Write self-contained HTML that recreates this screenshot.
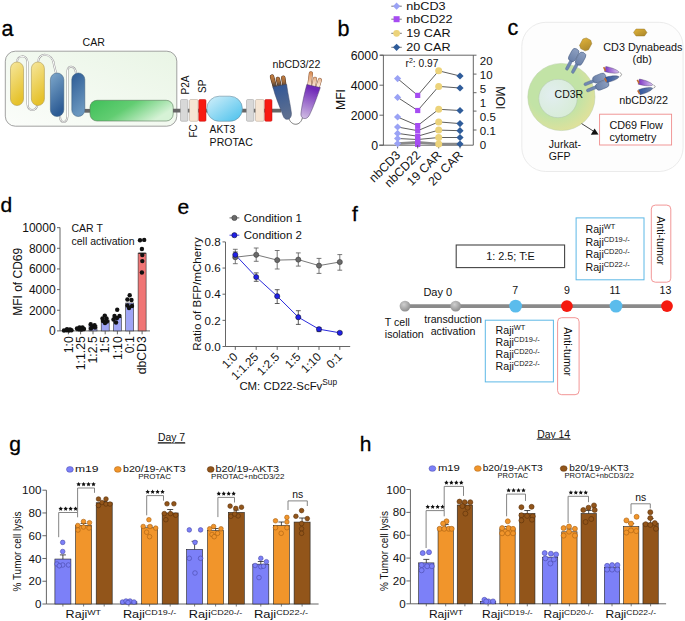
<!DOCTYPE html>
<html><head><meta charset="utf-8"><title>Figure</title>
<style>
html,body{margin:0;padding:0;background:#fff;}
body{width:685px;height:621px;overflow:hidden;}
svg{display:block;font-family:"Liberation Sans", sans-serif;}
.L{stroke:#000;stroke-width:0.3px;}
</style></head><body>
<svg width="685" height="621" viewBox="0 0 685 621">
<rect width="685" height="621" fill="#ffffff"/>

<defs>
<linearGradient id="gCarBox" x1="0" y1="1" x2="1" y2="0">
 <stop offset="0" stop-color="#fbfdfa"/><stop offset="1" stop-color="#e9f5e5"/>
</linearGradient>
<linearGradient id="gYel" x1="0" y1="0" x2="0.3" y2="1">
 <stop offset="0" stop-color="#f6e79d"/><stop offset="1" stop-color="#e6c22c"/>
</linearGradient>
<linearGradient id="gBlu1" x1="0" y1="0" x2="0.3" y2="1">
 <stop offset="0" stop-color="#7ea8cb"/><stop offset="1" stop-color="#2c5b94"/>
</linearGradient>
<linearGradient id="gBlu2" x1="0" y1="0" x2="0.3" y2="1">
 <stop offset="0" stop-color="#2c5b94"/><stop offset="1" stop-color="#6a97bf"/>
</linearGradient>
<linearGradient id="gGreen" x1="0" y1="0" x2="1" y2="0.4">
 <stop offset="0" stop-color="#3ebf58"/><stop offset="0.5" stop-color="#62cd72"/><stop offset="1" stop-color="#d6f2d6"/>
</linearGradient>
<linearGradient id="gAkt" x1="0" y1="0" x2="1" y2="1">
 <stop offset="0" stop-color="#d4f0fa"/><stop offset="1" stop-color="#48c0ec"/>
</linearGradient>
<linearGradient id="gNbBlue" x1="0" y1="0" x2="0.2" y2="1">
 <stop offset="0" stop-color="#2f5596"/><stop offset="1" stop-color="#5d6f90"/>
</linearGradient>
<linearGradient id="gNbPur" x1="0" y1="0" x2="-0.2" y2="1">
 <stop offset="0" stop-color="#7029b8"/><stop offset="1" stop-color="#d7c8e6"/>
</linearGradient>
<linearGradient id="gFingBr" gradientUnits="userSpaceOnUse" x1="0" y1="75" x2="0" y2="87">
 <stop offset="0" stop-color="#c98040"/><stop offset="0.55" stop-color="#a06a3a"/><stop offset="1" stop-color="#3a3a40"/>
</linearGradient>
<linearGradient id="gFingPe" gradientUnits="userSpaceOnUse" x1="0" y1="72" x2="0" y2="87">
 <stop offset="0" stop-color="#d88a50"/><stop offset="1" stop-color="#fdeee2"/>
</linearGradient>
<radialGradient id="gCellOut" cx="0.4" cy="0.4" r="0.65">
 <stop offset="0.6" stop-color="#c2e3a6"/><stop offset="1" stop-color="#e2e19a"/>
</radialGradient>
<radialGradient id="gCellIn" cx="0.35" cy="0.4" r="0.7">
 <stop offset="0" stop-color="#e2eef0"/><stop offset="1" stop-color="#d7ecd6"/>
</radialGradient>
<linearGradient id="gRecep" x1="0" y1="0" x2="0" y2="1">
 <stop offset="0" stop-color="#8d9fc0"/><stop offset="1" stop-color="#6a80a8"/>
</linearGradient>
<linearGradient id="gBead" x1="0" y1="0" x2="1" y2="1">
 <stop offset="0" stop-color="#e2b43a"/><stop offset="1" stop-color="#a8852a"/>
</linearGradient>
<linearGradient id="gNbPurS" x1="0" y1="0" x2="1" y2="0">
 <stop offset="0" stop-color="#7a2fc4"/><stop offset="1" stop-color="#d9c6ee"/>
</linearGradient>
<linearGradient id="gNbBluS" x1="0" y1="0" x2="1" y2="0">
 <stop offset="0" stop-color="#2f55a0"/><stop offset="1" stop-color="#6a7fa8"/>
</linearGradient>
<radialGradient id="gGreyDot" cx="0.4" cy="0.35" r="0.7">
 <stop offset="0" stop-color="#cfcfcf"/><stop offset="1" stop-color="#8a8a8a"/>
</radialGradient>
</defs>

<text x="1.5" y="35.6" font-size="21.5" text-anchor="start" fill="#000" class="L">a</text>
<text x="93.7" y="46.3" font-size="10.6" text-anchor="middle" fill="#111">CAR</text>
<rect x="5.3" y="51.2" width="171.5" height="75" rx="10" fill="url(#gCarBox)" stroke="#8a8a8a" stroke-width="0.8"/>
<path d="M17 62 C17 55 27 54 27.5 62 L27.5 104 C27.5 112 37 112 37.5 104" fill="none" stroke="#9a9a9a" stroke-width="2"/>
<path d="M17 62 C17 55 27 54 27.5 62 L27.5 104 C27.5 112 37 112 37.5 104" fill="none" stroke="#ffffff" stroke-width="1"/>
<path d="M38 62 C38 52 53 52 54 65 L56 73" fill="none" stroke="#9a9a9a" stroke-width="2"/>
<path d="M38 62 C38 52 53 52 54 65 L56 73" fill="none" stroke="#ffffff" stroke-width="1"/>
<path d="M60 116 C60 124 67 124 67.5 116 L67.5 71 C67.5 65 75 65 76 73" fill="none" stroke="#9a9a9a" stroke-width="2"/>
<path d="M60 116 C60 124 67 124 67.5 116 L67.5 71 C67.5 65 75 65 76 73" fill="none" stroke="#ffffff" stroke-width="1"/>
<rect x="10.5" y="62" width="13" height="43.5" rx="6.5" fill="url(#gYel)" stroke="#a08a40" stroke-width="0.5"/>
<rect x="31.4" y="62" width="13" height="43.5" rx="6.5" fill="url(#gYel)" stroke="#a08a40" stroke-width="0.5"/>
<line x1="84.5" y1="110.8" x2="91" y2="110.8" stroke="#666" stroke-width="3.8"/>
<rect x="50.4" y="73" width="13.4" height="43.5" rx="6.7" fill="url(#gBlu1)" stroke="#335577" stroke-width="0.5"/>
<rect x="71.8" y="73" width="13" height="43.5" rx="6.5" fill="url(#gBlu2)" stroke="#335577" stroke-width="0.5"/>
<rect x="90" y="100.3" width="83.2" height="20.7" rx="7" fill="url(#gGreen)" stroke="#5a7a5a" stroke-width="0.6"/>
<line x1="173" y1="110.6" x2="281" y2="110.6" stroke="#666" stroke-width="3.8"/>
<rect x="180.5" y="99.5" width="7.4" height="21.8" rx="1.2" fill="#d8d8d8" stroke="#9a9a9a" stroke-width="0.5"/>
<rect x="189.5" y="99.5" width="8.6" height="21.8" rx="1.2" fill="#f6e5d3" stroke="#b0a090" stroke-width="0.5"/>
<rect x="198.8" y="99.5" width="7.2" height="21.8" rx="1.2" fill="#f81a12" stroke="#c01010" stroke-width="0.5"/>
<rect x="246.5" y="99.5" width="7.4" height="21.8" rx="1.2" fill="#d8d8d8" stroke="#9a9a9a" stroke-width="0.5"/>
<rect x="255.5" y="99.5" width="8.6" height="21.8" rx="1.2" fill="#f6e5d3" stroke="#b0a090" stroke-width="0.5"/>
<rect x="264.8" y="99.5" width="7.2" height="21.8" rx="1.2" fill="#f81a12" stroke="#c01010" stroke-width="0.5"/>
<rect x="206.8" y="96.2" width="35.6" height="25.1" rx="12.5" fill="url(#gAkt)" stroke="#6f8f9f" stroke-width="0.6"/>
<text x="188.6" y="94.5" font-size="10" text-anchor="start" fill="#111" transform="rotate(-90 188.6 94.5)">P2A</text>
<text x="206.2" y="93" font-size="10" text-anchor="start" fill="#111" transform="rotate(-90 206.2 93)">SP</text>
<text x="197.2" y="137.6" font-size="10" text-anchor="start" fill="#111" transform="rotate(-90 197.2 137.6)">FC</text>
<text x="209.6" y="133.2" font-size="10.3" text-anchor="start" fill="#111">AKT3</text>
<text x="209.6" y="145.5" font-size="10.3" text-anchor="start" fill="#111" textLength="43.2" lengthAdjust="spacingAndGlyphs">PROTAC</text>
<path d="M288.5 117.5 C291 126.5 300.5 126.5 302.5 117.5" fill="none" stroke="#666" stroke-width="0.9"/>
<path d="M274.9 87 L272 76.6" fill="none" stroke="#4a3020" stroke-width="4.4" stroke-linecap="round"/>
<path d="M274.9 87 L272 76.6" fill="none" stroke="url(#gFingBr)" stroke-width="3.4" stroke-linecap="round"/>
<path d="M279.6 86 L277.9 78.9" fill="none" stroke="#4a3020" stroke-width="4.4" stroke-linecap="round"/>
<path d="M279.6 86 L277.9 78.9" fill="none" stroke="url(#gFingBr)" stroke-width="3.4" stroke-linecap="round"/>
<path d="M284.3 85.2 L283.3 77.8" fill="none" stroke="#4a3020" stroke-width="4.4" stroke-linecap="round"/>
<path d="M284.3 85.2 L283.3 77.8" fill="none" stroke="url(#gFingBr)" stroke-width="3.4" stroke-linecap="round"/>
<path d="M272.9 86.9 L286.6 84.4 C288 95 290.5 105 291.4 113 C292 120 285 121.5 283.2 116 C279.5 106 275 96 272.9 86.9 Z" fill="url(#gNbBlue)" stroke="#3c4868" stroke-width="0.5"/>
<path d="M309.3 86 L310.9 73.3" fill="none" stroke="#8a5a3a" stroke-width="4.2" stroke-linecap="round"/>
<path d="M309.3 86 L310.9 73.3" fill="none" stroke="url(#gFingPe)" stroke-width="3.2" stroke-linecap="round"/>
<path d="M313.5 86.6 L314.9 78.9" fill="none" stroke="#8a5a3a" stroke-width="4.2" stroke-linecap="round"/>
<path d="M313.5 86.6 L314.9 78.9" fill="none" stroke="url(#gFingPe)" stroke-width="3.2" stroke-linecap="round"/>
<path d="M317.6 87.4 L319.9 80" fill="none" stroke="#8a5a3a" stroke-width="4.2" stroke-linecap="round"/>
<path d="M317.6 87.4 L319.9 80" fill="none" stroke="url(#gFingPe)" stroke-width="3.2" stroke-linecap="round"/>
<path d="M306.8 84.5 L320.3 87.6 C317 97 313.5 107 309.5 115 C306.5 121 300 119 301 113 C302 104 304.5 93 306.8 84.5 Z" fill="url(#gNbPur)" stroke="#4a3a68" stroke-width="0.5"/>
<text x="272.6" y="67.6" font-size="10.6" text-anchor="start" fill="#111">nbCD3/22</text>
<text x="337.5" y="35.8" font-size="21.5" text-anchor="start" fill="#000" class="L">b</text>
<line x1="391.3" y1="6.2" x2="401.8" y2="6.2" stroke="#555" stroke-width="0.8"/>
<path d="M396.6 2.6L400.2 6.2L396.6 9.8L393 6.2Z" fill="#9aa2f5" stroke="none" stroke-width="0.4"/>
<text x="406.3" y="10.2" font-size="11.6" text-anchor="start" fill="#111" transform="translate(406.3 0) scale(1.09 1) translate(-406.3 0)">nbCD3</text>
<line x1="391.3" y1="19.2" x2="401.8" y2="19.2" stroke="#555" stroke-width="0.8"/>
<rect x="393.6" y="16.2" width="6" height="6" rx="0" fill="#a64cf2" stroke="none" stroke-width="1"/>
<text x="406.3" y="23.2" font-size="11.6" text-anchor="start" fill="#111" transform="translate(406.3 0) scale(1.09 1) translate(-406.3 0)">nbCD22</text>
<line x1="391.3" y1="33.3" x2="401.8" y2="33.3" stroke="#555" stroke-width="0.8"/>
<circle cx="396.6" cy="33.3" r="3.4" fill="#ecd37a" stroke="none" stroke-width="0.6"/>
<text x="406.3" y="37.3" font-size="11.6" text-anchor="start" fill="#111" transform="translate(406.3 0) scale(1.09 1) translate(-406.3 0)">19 CAR</text>
<line x1="391.3" y1="47.3" x2="401.8" y2="47.3" stroke="#555" stroke-width="0.8"/>
<path d="M396.6 43.7L400.2 47.3L396.6 50.9L393 47.3Z" fill="#2f5c9a" stroke="none" stroke-width="0.4"/>
<text x="406.3" y="51.3" font-size="11.6" text-anchor="start" fill="#111" transform="translate(406.3 0) scale(1.09 1) translate(-406.3 0)">20 CAR</text>
<line x1="383.4" y1="55.2" x2="383.4" y2="145.2" stroke="#555" stroke-width="0.9"/>
<line x1="380.2" y1="55.2" x2="476.5" y2="55.2" stroke="#555" stroke-width="0.9"/>
<line x1="473.3" y1="55.2" x2="473.3" y2="145.2" stroke="#555" stroke-width="0.9"/>
<line x1="379.2" y1="145.2" x2="473.3" y2="145.2" stroke="#555" stroke-width="0.9"/>
<line x1="379.5" y1="145.2" x2="383.4" y2="145.2" stroke="#555" stroke-width="0.9"/>
<text x="378" y="149.5" font-size="12.3" text-anchor="end" fill="#111">0</text>
<line x1="379.5" y1="115.2" x2="383.4" y2="115.2" stroke="#555" stroke-width="0.9"/>
<text x="378" y="119.5" font-size="12.3" text-anchor="end" fill="#111">2000</text>
<line x1="379.5" y1="85.2" x2="383.4" y2="85.2" stroke="#555" stroke-width="0.9"/>
<text x="378" y="89.5" font-size="12.3" text-anchor="end" fill="#111">4000</text>
<line x1="379.5" y1="55.2" x2="383.4" y2="55.2" stroke="#555" stroke-width="0.9"/>
<text x="378" y="59.5" font-size="12.3" text-anchor="end" fill="#111">6000</text>
<line x1="473.3" y1="74.1" x2="476.5" y2="74.1" stroke="#555" stroke-width="0.9"/>
<line x1="473.3" y1="92.7" x2="476.5" y2="92.7" stroke="#555" stroke-width="0.9"/>
<line x1="473.3" y1="111.1" x2="476.5" y2="111.1" stroke="#555" stroke-width="0.9"/>
<line x1="473.3" y1="130" x2="476.5" y2="130" stroke="#555" stroke-width="0.9"/>
<text x="479.8" y="65.3" font-size="11.5" text-anchor="start" fill="#111">20</text>
<text x="479.8" y="79.25" font-size="11.5" text-anchor="start" fill="#111">10</text>
<text x="479.8" y="93.2" font-size="11.5" text-anchor="start" fill="#111">5</text>
<text x="479.8" y="107.15" font-size="11.5" text-anchor="start" fill="#111">1</text>
<text x="479.8" y="121.1" font-size="11.5" text-anchor="start" fill="#111">0.5</text>
<text x="479.8" y="135.05" font-size="11.5" text-anchor="start" fill="#111">0.1</text>
<text x="479.8" y="149" font-size="11.5" text-anchor="start" fill="#111">0</text>
<text x="495.8" y="86.3" font-size="12.2" text-anchor="start" fill="#111" transform="rotate(90 495.8 86.3)">MOI</text>
<text x="344.6" y="99.5" font-size="12.2" text-anchor="middle" fill="#111" transform="rotate(-90 344.6 99.5)">MFI</text>
<polyline points="397.6,78.6 417.7,95.4 438.7,70.8 460,76" fill="none" stroke="#333" stroke-width="0.8"/>
<polyline points="397.6,97.4 417.7,110.5 438.7,86.4 460,88" fill="none" stroke="#333" stroke-width="0.8"/>
<polyline points="397.6,117 417.7,125.6 438.7,109.3 460,110.5" fill="none" stroke="#333" stroke-width="0.8"/>
<polyline points="397.6,127 417.7,130.7 438.7,121.9 460,123.6" fill="none" stroke="#333" stroke-width="0.8"/>
<polyline points="397.6,133.4 417.7,136.2 438.7,130.1 460,130.7" fill="none" stroke="#333" stroke-width="0.8"/>
<polyline points="397.6,138.5 417.7,139.5 438.7,137.5 460,137.5" fill="none" stroke="#333" stroke-width="0.8"/>
<polyline points="397.6,143.6 417.7,142.4 438.7,144 460,144" fill="none" stroke="#8a8a8a" stroke-width="2.6"/>
<rect x="415.1" y="141.8" width="5.2" height="5.2" rx="0" fill="#a64cf2" stroke="none" stroke-width="1"/>
<line x1="397.6" y1="145.2" x2="397.6" y2="148.4" stroke="#555" stroke-width="0.9"/>
<line x1="417.7" y1="145.2" x2="417.7" y2="148.4" stroke="#555" stroke-width="0.9"/>
<line x1="438.7" y1="145.2" x2="438.7" y2="148.4" stroke="#555" stroke-width="0.9"/>
<line x1="460" y1="145.2" x2="460" y2="148.4" stroke="#555" stroke-width="0.9"/>
<path d="M397.6 75L401.2 78.6L397.6 82.2L394 78.6Z" fill="#9aa2f5" stroke="none" stroke-width="0.4"/>
<rect x="415.1" y="92.8" width="5.2" height="5.2" rx="0" fill="#a64cf2" stroke="none" stroke-width="1"/>
<circle cx="438.7" cy="70.8" r="3.5" fill="#ecd37a" stroke="none" stroke-width="0.6"/>
<path d="M460 72.4L463.6 76L460 79.6L456.4 76Z" fill="#2f5c9a" stroke="none" stroke-width="0.4"/>
<path d="M397.6 93.8L401.2 97.4L397.6 101L394 97.4Z" fill="#9aa2f5" stroke="none" stroke-width="0.4"/>
<rect x="415.1" y="107.9" width="5.2" height="5.2" rx="0" fill="#a64cf2" stroke="none" stroke-width="1"/>
<circle cx="438.7" cy="86.4" r="3.5" fill="#ecd37a" stroke="none" stroke-width="0.6"/>
<path d="M460 84.4L463.6 88L460 91.6L456.4 88Z" fill="#2f5c9a" stroke="none" stroke-width="0.4"/>
<path d="M397.6 113.4L401.2 117L397.6 120.6L394 117Z" fill="#9aa2f5" stroke="none" stroke-width="0.4"/>
<rect x="415.1" y="123" width="5.2" height="5.2" rx="0" fill="#a64cf2" stroke="none" stroke-width="1"/>
<circle cx="438.7" cy="109.3" r="3.5" fill="#ecd37a" stroke="none" stroke-width="0.6"/>
<path d="M460 106.9L463.6 110.5L460 114.1L456.4 110.5Z" fill="#2f5c9a" stroke="none" stroke-width="0.4"/>
<path d="M397.6 123.4L401.2 127L397.6 130.6L394 127Z" fill="#9aa2f5" stroke="none" stroke-width="0.4"/>
<rect x="415.1" y="128.1" width="5.2" height="5.2" rx="0" fill="#a64cf2" stroke="none" stroke-width="1"/>
<circle cx="438.7" cy="121.9" r="3.5" fill="#ecd37a" stroke="none" stroke-width="0.6"/>
<path d="M460 120L463.6 123.6L460 127.2L456.4 123.6Z" fill="#2f5c9a" stroke="none" stroke-width="0.4"/>
<path d="M397.6 129.8L401.2 133.4L397.6 137L394 133.4Z" fill="#9aa2f5" stroke="none" stroke-width="0.4"/>
<rect x="415.1" y="133.6" width="5.2" height="5.2" rx="0" fill="#a64cf2" stroke="none" stroke-width="1"/>
<circle cx="438.7" cy="130.1" r="3.5" fill="#ecd37a" stroke="none" stroke-width="0.6"/>
<path d="M460 127.1L463.6 130.7L460 134.3L456.4 130.7Z" fill="#2f5c9a" stroke="none" stroke-width="0.4"/>
<path d="M397.6 134.9L401.2 138.5L397.6 142.1L394 138.5Z" fill="#9aa2f5" stroke="none" stroke-width="0.4"/>
<rect x="415.1" y="136.9" width="5.2" height="5.2" rx="0" fill="#a64cf2" stroke="none" stroke-width="1"/>
<circle cx="438.7" cy="137.5" r="3.5" fill="#ecd37a" stroke="none" stroke-width="0.6"/>
<path d="M460 133.9L463.6 137.5L460 141.1L456.4 137.5Z" fill="#2f5c9a" stroke="none" stroke-width="0.4"/>
<path d="M397.6 140L401.2 143.6L397.6 147.2L394 143.6Z" fill="#9aa2f5" stroke="none" stroke-width="0.4"/>
<rect x="415.1" y="139.8" width="5.2" height="5.2" rx="0" fill="#a64cf2" stroke="none" stroke-width="1"/>
<circle cx="438.7" cy="144" r="3.5" fill="#ecd37a" stroke="none" stroke-width="0.6"/>
<path d="M460 140.4L463.6 144L460 147.6L456.4 144Z" fill="#2f5c9a" stroke="none" stroke-width="0.4"/>
<text x="405.5" y="67.4" font-size="10.2" fill="#111">r<tspan dy="-4" font-size="7">2</tspan><tspan dy="4">: 0.97</tspan></text>
<text x="401.2" y="156" font-size="12.3" text-anchor="end" fill="#111" transform="rotate(-45 401.2 156)">nbCD3</text>
<text x="421.3" y="156" font-size="12.3" text-anchor="end" fill="#111" transform="rotate(-45 421.3 156)">nbCD22</text>
<text x="442.3" y="156" font-size="12.3" text-anchor="end" fill="#111" transform="rotate(-45 442.3 156)">19 CAR</text>
<text x="463.6" y="156" font-size="12.3" text-anchor="end" fill="#111" transform="rotate(-45 463.6 156)">20 CAR</text>
<text x="507.5" y="34.8" font-size="21.5" text-anchor="start" fill="#000" class="L">c</text>
<rect x="521.8" y="22.3" width="161.3" height="149.2" rx="24" fill="#fdfdfd" stroke="#e6e6e6" stroke-width="0.8"/>
<circle cx="561.4" cy="97" r="33.6" fill="url(#gCellOut)" stroke="#b8cfa8" stroke-width="0.5"/>
<circle cx="558" cy="98.5" r="19.2" fill="url(#gCellIn)" stroke="#b0c4b0" stroke-width="0.5"/>
<text x="554.6" y="98" font-size="10.5" text-anchor="start" fill="#111">CD3R</text>
<text x="548.8" y="147.7" font-size="10.5" text-anchor="start" fill="#111">Jurkat-</text>
<text x="548.8" y="160.3" font-size="10.5" text-anchor="start" fill="#111">GFP</text>
<line x1="581.6" y1="123.6" x2="593.5" y2="131.2" stroke="#111" stroke-width="0.8"/>
<path d="M598.5 134.5 L590.8 134.8 L594.6 128.4 Z" fill="#111" stroke="none" stroke-width="1"/>
<rect x="599.6" y="114.2" width="72" height="30.8" rx="0" fill="#ffffff" stroke="#ef8c8c" stroke-width="0.9"/>
<text x="609.5" y="128.5" font-size="10.8" text-anchor="start" fill="#111">CD69 Flow</text>
<text x="609.5" y="141.3" font-size="10.8" text-anchor="start" fill="#111">cytometry</text>
<text x="603.3" y="50.5" font-size="10.8" text-anchor="start" fill="#111">CD3 Dynabeads</text>
<text x="642.2" y="62.8" font-size="10.8" text-anchor="middle" fill="#111">(db)</text>
<path d="M633.5 32.5 L636 29 L644.5 29 L647 32.5 L644.5 36 L636 36 Z" fill="url(#gBead)" stroke="#8a6c20" stroke-width="0.4"/>
<text x="619.3" y="104" font-size="10.8" text-anchor="start" fill="#111">nbCD3/22</text>
<g transform="translate(577 57) rotate(28)">
<rect x="-4.8" y="5" width="2.9" height="11.5" rx="1.4" fill="#7088b2" stroke="#4f6890" stroke-width="0.4"/>
<rect x="1.9" y="5" width="2.9" height="11.5" rx="1.4" fill="#7088b2" stroke="#4f6890" stroke-width="0.4"/>
<rect x="-7.5" y="-7" width="7.3" height="13.6" rx="3.4" fill="url(#gRecep)" stroke="#4a5f85" stroke-width="0.55"/>
<rect x="0.3" y="-7" width="7.3" height="13.6" rx="3.4" fill="url(#gRecep)" stroke="#4a5f85" stroke-width="0.55"/>
</g>
<g transform="translate(600.6 81.7) rotate(68)">
<rect x="-4.8" y="5" width="2.9" height="11.5" rx="1.4" fill="#7088b2" stroke="#4f6890" stroke-width="0.4"/>
<rect x="1.9" y="5" width="2.9" height="11.5" rx="1.4" fill="#7088b2" stroke="#4f6890" stroke-width="0.4"/>
<rect x="-7.5" y="-7" width="7.3" height="13.6" rx="3.4" fill="url(#gRecep)" stroke="#4a5f85" stroke-width="0.55"/>
<rect x="0.3" y="-7" width="7.3" height="13.6" rx="3.4" fill="url(#gRecep)" stroke="#4a5f85" stroke-width="0.55"/>
</g>
<g transform="translate(585.7 44.4) rotate(28)">
<path d="M-5 -3.5 L-2.5 -6 L2.5 -6 L5 -3.5 L5 3.5 L2.5 6 L-2.5 6 L-5 3.5 Z" fill="url(#gBead)" stroke="#8a6c20" stroke-width="0.4" stroke-linejoin="round"/>
</g>
<path d="M619.7 72.4 Q623.5 74.5 619.7 76.7" fill="none" stroke="#666" stroke-width="0.6"/>
<path d="M604.6 71.53 C611.01 73.46 617.81 73.74 618.96 72.28 C618.59 70.46 612.39 67.64 605.8 66.47 L605.8 66.47 Z" fill="url(#gNbPurS)" stroke="#4a3a68" stroke-width="0.4"/>
<path d="M606.81 82.43 C612.9 81.36 618.6 78.64 618.96 76.82 C617.8 75.36 611.5 75.54 605.59 77.37 L605.59 77.37 Z" fill="url(#gNbBluS)" stroke="#2a3a60" stroke-width="0.4"/>
<path d="M603.7 67.2 L605.5 70.8" fill="none" stroke="#c06a30" stroke-width="1.6"/>
<path d="M604.7 78.1 L606.5 81.7" fill="none" stroke="#c06a30" stroke-width="1.6"/>
<path d="M653.4 85 Q657 86.6 653.4 88.2" fill="none" stroke="#666" stroke-width="0.6"/>
<path d="M638.2 84.13 C644.66 86.06 651.51 86.34 652.66 84.88 C652.29 83.06 646.04 80.24 639.4 79.07 L639.4 79.07 Z" fill="url(#gNbPurS)" stroke="#4a3a68" stroke-width="0.4"/>
<path d="M640.03 94.69 C646.44 93.22 652.38 90.12 652.65 88.28 C651.42 86.88 644.76 87.48 638.57 89.71 L638.57 89.71 Z" fill="url(#gNbBluS)" stroke="#2a3a60" stroke-width="0.4"/>
<path d="M637.3 79.8 L639.1 83.4" fill="none" stroke="#c06a30" stroke-width="1.6"/>
<path d="M637.8 90.4 L639.6 94" fill="none" stroke="#c06a30" stroke-width="1.6"/>
<text x="0.5" y="211.8" font-size="21" text-anchor="start" fill="#000" class="L">d</text>
<line x1="60" y1="227.5" x2="60" y2="330.9" stroke="#555" stroke-width="0.9"/>
<line x1="60" y1="330.9" x2="150" y2="330.9" stroke="#555" stroke-width="0.9"/>
<line x1="57" y1="330.9" x2="60" y2="330.9" stroke="#555" stroke-width="0.9"/>
<text x="55.6" y="335.2" font-size="12" text-anchor="end" fill="#111">0</text>
<line x1="57" y1="310.25" x2="60" y2="310.25" stroke="#555" stroke-width="0.9"/>
<text x="55.6" y="314.55" font-size="12" text-anchor="end" fill="#111">2000</text>
<line x1="57" y1="289.6" x2="60" y2="289.6" stroke="#555" stroke-width="0.9"/>
<text x="55.6" y="293.9" font-size="12" text-anchor="end" fill="#111">4000</text>
<line x1="57" y1="268.95" x2="60" y2="268.95" stroke="#555" stroke-width="0.9"/>
<text x="55.6" y="273.25" font-size="12" text-anchor="end" fill="#111">6000</text>
<line x1="57" y1="248.3" x2="60" y2="248.3" stroke="#555" stroke-width="0.9"/>
<text x="55.6" y="252.6" font-size="12" text-anchor="end" fill="#111">8000</text>
<line x1="57" y1="227.65" x2="60" y2="227.65" stroke="#555" stroke-width="0.9"/>
<text x="55.6" y="231.95" font-size="12" text-anchor="end" fill="#111">10000</text>
<text x="22" y="281.8" font-size="12" text-anchor="middle" fill="#111" transform="rotate(-90 22 281.8)">MFI of CD69</text>
<text x="71.5" y="232.2" font-size="10.5" text-anchor="start" fill="#111">CAR T</text>
<text x="71.5" y="244.6" font-size="10.5" text-anchor="start" fill="#111">cell activation</text>
<rect x="64.4" y="330.28" width="8" height="0.62" rx="0" fill="#a0a6f6" stroke="#333" stroke-width="0.6"/>
<line x1="68.4" y1="330.9" x2="68.4" y2="334.3" stroke="#555" stroke-width="0.9"/>
<text x="72.7" y="336.3" font-size="12.2" text-anchor="end" fill="#111" transform="rotate(-90 72.7 336.3)">1:0</text>
<rect x="76.6" y="328.53" width="8" height="2.37" rx="0" fill="#a0a6f6" stroke="#333" stroke-width="0.6"/>
<line x1="80.6" y1="330.9" x2="80.6" y2="334.3" stroke="#555" stroke-width="0.9"/>
<text x="84.9" y="336.3" font-size="12.2" text-anchor="end" fill="#111" transform="rotate(-90 84.9 336.3)">1:1.25</text>
<rect x="89" y="325.53" width="8" height="5.37" rx="0" fill="#a0a6f6" stroke="#333" stroke-width="0.6"/>
<line x1="93" y1="330.9" x2="93" y2="334.3" stroke="#555" stroke-width="0.9"/>
<text x="97.3" y="336.3" font-size="12.2" text-anchor="end" fill="#111" transform="rotate(-90 97.3 336.3)">1:2.5</text>
<rect x="101.2" y="320.06" width="8" height="10.84" rx="0" fill="#a0a6f6" stroke="#333" stroke-width="0.6"/>
<line x1="105.2" y1="330.9" x2="105.2" y2="334.3" stroke="#555" stroke-width="0.9"/>
<text x="109.5" y="336.3" font-size="12.2" text-anchor="end" fill="#111" transform="rotate(-90 109.5 336.3)">1:5</text>
<rect x="113.4" y="317.48" width="8" height="13.42" rx="0" fill="#a0a6f6" stroke="#333" stroke-width="0.6"/>
<line x1="117.4" y1="330.9" x2="117.4" y2="334.3" stroke="#555" stroke-width="0.9"/>
<text x="121.7" y="336.3" font-size="12.2" text-anchor="end" fill="#111" transform="rotate(-90 121.7 336.3)">1:10</text>
<rect x="125.7" y="303.02" width="8" height="27.88" rx="0" fill="#a0a6f6" stroke="#333" stroke-width="0.6"/>
<line x1="129.7" y1="330.9" x2="129.7" y2="334.3" stroke="#555" stroke-width="0.9"/>
<text x="134" y="336.3" font-size="12.2" text-anchor="end" fill="#111" transform="rotate(-90 134 336.3)">0:1</text>
<rect x="138.1" y="253.15" width="8" height="77.75" rx="0" fill="#f07575" stroke="#333" stroke-width="0.6"/>
<line x1="142.1" y1="330.9" x2="142.1" y2="334.3" stroke="#555" stroke-width="0.9"/>
<text x="146.4" y="336.3" font-size="12.2" text-anchor="end" fill="#111" transform="rotate(-90 146.4 336.3)">dbCD3</text>
<circle cx="64" cy="330.5" r="2.2" fill="#111" stroke="none" stroke-width="0.6"/>
<circle cx="66.5" cy="330.2" r="2.2" fill="#111" stroke="none" stroke-width="0.6"/>
<circle cx="69" cy="330.5" r="2.2" fill="#111" stroke="none" stroke-width="0.6"/>
<circle cx="71.5" cy="330.3" r="2.2" fill="#111" stroke="none" stroke-width="0.6"/>
<circle cx="67" cy="329.3" r="2.2" fill="#111" stroke="none" stroke-width="0.6"/>
<circle cx="70" cy="329.5" r="2.2" fill="#111" stroke="none" stroke-width="0.6"/>
<circle cx="77" cy="328.5" r="2.2" fill="#111" stroke="none" stroke-width="0.6"/>
<circle cx="79.5" cy="327.5" r="2.2" fill="#111" stroke="none" stroke-width="0.6"/>
<circle cx="82.5" cy="327.5" r="2.2" fill="#111" stroke="none" stroke-width="0.6"/>
<circle cx="79" cy="329.2" r="2.2" fill="#111" stroke="none" stroke-width="0.6"/>
<circle cx="84" cy="329" r="2.2" fill="#111" stroke="none" stroke-width="0.6"/>
<circle cx="81.5" cy="329.5" r="2.2" fill="#111" stroke="none" stroke-width="0.6"/>
<circle cx="90.7" cy="324.2" r="2.2" fill="#111" stroke="none" stroke-width="0.6"/>
<circle cx="94.6" cy="325.2" r="2.2" fill="#111" stroke="none" stroke-width="0.6"/>
<circle cx="92" cy="327" r="2.2" fill="#111" stroke="none" stroke-width="0.6"/>
<circle cx="95" cy="327.5" r="2.2" fill="#111" stroke="none" stroke-width="0.6"/>
<circle cx="91" cy="328.5" r="2.2" fill="#111" stroke="none" stroke-width="0.6"/>
<circle cx="104.8" cy="315.6" r="2.2" fill="#111" stroke="none" stroke-width="0.6"/>
<circle cx="102.5" cy="318.5" r="2.2" fill="#111" stroke="none" stroke-width="0.6"/>
<circle cx="106.5" cy="318.5" r="2.2" fill="#111" stroke="none" stroke-width="0.6"/>
<circle cx="103" cy="321" r="2.2" fill="#111" stroke="none" stroke-width="0.6"/>
<circle cx="107" cy="321.5" r="2.2" fill="#111" stroke="none" stroke-width="0.6"/>
<circle cx="105" cy="323" r="2.2" fill="#111" stroke="none" stroke-width="0.6"/>
<circle cx="117.2" cy="309.8" r="2.2" fill="#111" stroke="none" stroke-width="0.6"/>
<circle cx="114.5" cy="316" r="2.2" fill="#111" stroke="none" stroke-width="0.6"/>
<circle cx="119.5" cy="316" r="2.2" fill="#111" stroke="none" stroke-width="0.6"/>
<circle cx="117" cy="318" r="2.2" fill="#111" stroke="none" stroke-width="0.6"/>
<circle cx="113.5" cy="319.5" r="2.2" fill="#111" stroke="none" stroke-width="0.6"/>
<circle cx="116" cy="322.5" r="2.2" fill="#111" stroke="none" stroke-width="0.6"/>
<circle cx="129.7" cy="295.3" r="2.2" fill="#111" stroke="none" stroke-width="0.6"/>
<circle cx="127.4" cy="299.5" r="2.2" fill="#111" stroke="none" stroke-width="0.6"/>
<circle cx="131.5" cy="300" r="2.2" fill="#111" stroke="none" stroke-width="0.6"/>
<circle cx="127.5" cy="305.5" r="2.2" fill="#111" stroke="none" stroke-width="0.6"/>
<circle cx="132" cy="306" r="2.2" fill="#111" stroke="none" stroke-width="0.6"/>
<circle cx="129" cy="308" r="2.2" fill="#111" stroke="none" stroke-width="0.6"/>
<circle cx="140" cy="240.3" r="2.2" fill="#111" stroke="none" stroke-width="0.6"/>
<circle cx="144.2" cy="239.9" r="2.2" fill="#111" stroke="none" stroke-width="0.6"/>
<circle cx="141.9" cy="249" r="2.2" fill="#111" stroke="none" stroke-width="0.6"/>
<circle cx="142.3" cy="255.1" r="2.2" fill="#111" stroke="none" stroke-width="0.6"/>
<circle cx="142.3" cy="261.1" r="2.2" fill="#111" stroke="none" stroke-width="0.6"/>
<circle cx="141.9" cy="272.5" r="2.2" fill="#111" stroke="none" stroke-width="0.6"/>
<line x1="138.5" y1="253.2" x2="145.7" y2="253.2" stroke="#111" stroke-width="1"/>
<text x="177.5" y="214" font-size="21" text-anchor="start" fill="#000" class="L">e</text>
<line x1="225.5" y1="242" x2="225.5" y2="346.5" stroke="#555" stroke-width="0.9"/>
<line x1="225.5" y1="346.5" x2="350.2" y2="346.5" stroke="#555" stroke-width="0.9"/>
<line x1="222.5" y1="346.5" x2="225.5" y2="346.5" stroke="#555" stroke-width="0.9"/>
<text x="220.6" y="350.7" font-size="11.6" text-anchor="end" fill="#111">0.0</text>
<line x1="222.5" y1="320.35" x2="225.5" y2="320.35" stroke="#555" stroke-width="0.9"/>
<text x="220.6" y="324.55" font-size="11.6" text-anchor="end" fill="#111">0.2</text>
<line x1="222.5" y1="294.2" x2="225.5" y2="294.2" stroke="#555" stroke-width="0.9"/>
<text x="220.6" y="298.4" font-size="11.6" text-anchor="end" fill="#111">0.4</text>
<line x1="222.5" y1="268.05" x2="225.5" y2="268.05" stroke="#555" stroke-width="0.9"/>
<text x="220.6" y="272.25" font-size="11.6" text-anchor="end" fill="#111">0.6</text>
<line x1="222.5" y1="241.9" x2="225.5" y2="241.9" stroke="#555" stroke-width="0.9"/>
<text x="220.6" y="246.1" font-size="11.6" text-anchor="end" fill="#111">0.8</text>
<text x="201" y="294" font-size="11.6" text-anchor="middle" fill="#111" transform="rotate(-90 201 294)">Ratio of BFP/mCherry</text>
<line x1="235.3" y1="346.5" x2="235.3" y2="349.9" stroke="#555" stroke-width="0.9"/>
<text x="238.3" y="357.6" font-size="11.8" text-anchor="end" fill="#111" transform="rotate(-45 238.3 357.6)">1:0</text>
<line x1="256.2" y1="346.5" x2="256.2" y2="349.9" stroke="#555" stroke-width="0.9"/>
<text x="259.2" y="357.6" font-size="11.8" text-anchor="end" fill="#111" transform="rotate(-45 259.2 357.6)">1:1.25</text>
<line x1="277.2" y1="346.5" x2="277.2" y2="349.9" stroke="#555" stroke-width="0.9"/>
<text x="280.2" y="357.6" font-size="11.8" text-anchor="end" fill="#111" transform="rotate(-45 280.2 357.6)">1:2.5</text>
<line x1="298.3" y1="346.5" x2="298.3" y2="349.9" stroke="#555" stroke-width="0.9"/>
<text x="301.3" y="357.6" font-size="11.8" text-anchor="end" fill="#111" transform="rotate(-45 301.3 357.6)">1:5</text>
<line x1="319" y1="346.5" x2="319" y2="349.9" stroke="#555" stroke-width="0.9"/>
<text x="322" y="357.6" font-size="11.8" text-anchor="end" fill="#111" transform="rotate(-45 322 357.6)">1:10</text>
<line x1="339.8" y1="346.5" x2="339.8" y2="349.9" stroke="#555" stroke-width="0.9"/>
<text x="342.8" y="357.6" font-size="11.8" text-anchor="end" fill="#111" transform="rotate(-45 342.8 357.6)">0:1</text>
<text x="239.4" y="390.2" font-size="11.4" fill="#111">CM: CD22-ScFv<tspan dy="-5" font-size="8.3">Sup</tspan></text>
<line x1="229.5" y1="217.9" x2="239.3" y2="217.9" stroke="#555" stroke-width="0.9"/>
<circle cx="234.4" cy="217.9" r="2.6" fill="#6a6a6a" stroke="#333" stroke-width="0.5"/>
<text x="243.8" y="222" font-size="11.5" text-anchor="start" fill="#111">Condition 1</text>
<line x1="229.5" y1="235.2" x2="239.3" y2="235.2" stroke="#2b2bdc" stroke-width="0.9"/>
<circle cx="234.4" cy="235.2" r="2.6" fill="#2020e8" stroke="#111" stroke-width="0.5"/>
<text x="243.8" y="239.3" font-size="11.5" text-anchor="start" fill="#111">Condition 2</text>
<line x1="235.3" y1="249.3" x2="235.3" y2="263.7" stroke="#555" stroke-width="0.8"/>
<line x1="232.9" y1="249.3" x2="237.7" y2="249.3" stroke="#555" stroke-width="0.8"/>
<line x1="232.9" y1="263.7" x2="237.7" y2="263.7" stroke="#555" stroke-width="0.8"/>
<line x1="256.2" y1="248" x2="256.2" y2="261.3" stroke="#555" stroke-width="0.8"/>
<line x1="253.8" y1="248" x2="258.6" y2="248" stroke="#555" stroke-width="0.8"/>
<line x1="253.8" y1="261.3" x2="258.6" y2="261.3" stroke="#555" stroke-width="0.8"/>
<line x1="277.2" y1="250.5" x2="277.2" y2="269" stroke="#555" stroke-width="0.8"/>
<line x1="274.8" y1="250.5" x2="279.6" y2="250.5" stroke="#555" stroke-width="0.8"/>
<line x1="274.8" y1="269" x2="279.6" y2="269" stroke="#555" stroke-width="0.8"/>
<line x1="298.3" y1="252.9" x2="298.3" y2="266.1" stroke="#555" stroke-width="0.8"/>
<line x1="295.9" y1="252.9" x2="300.7" y2="252.9" stroke="#555" stroke-width="0.8"/>
<line x1="295.9" y1="266.1" x2="300.7" y2="266.1" stroke="#555" stroke-width="0.8"/>
<line x1="319" y1="258.4" x2="319" y2="273.4" stroke="#555" stroke-width="0.8"/>
<line x1="316.6" y1="258.4" x2="321.4" y2="258.4" stroke="#555" stroke-width="0.8"/>
<line x1="316.6" y1="273.4" x2="321.4" y2="273.4" stroke="#555" stroke-width="0.8"/>
<line x1="339.8" y1="254.6" x2="339.8" y2="270.2" stroke="#555" stroke-width="0.8"/>
<line x1="337.4" y1="254.6" x2="342.2" y2="254.6" stroke="#555" stroke-width="0.8"/>
<line x1="337.4" y1="270.2" x2="342.2" y2="270.2" stroke="#555" stroke-width="0.8"/>
<polyline points="235.3,257.2 256.2,254.8 277.2,260.1 298.3,259.6 319,265.6 339.8,262" fill="none" stroke="#555" stroke-width="0.8"/>
<line x1="235.3" y1="252" x2="235.3" y2="258" stroke="#333" stroke-width="0.8"/>
<line x1="232.9" y1="252" x2="237.7" y2="252" stroke="#333" stroke-width="0.8"/>
<line x1="232.9" y1="258" x2="237.7" y2="258" stroke="#333" stroke-width="0.8"/>
<line x1="256.2" y1="272.9" x2="256.2" y2="281.3" stroke="#333" stroke-width="0.8"/>
<line x1="253.8" y1="272.9" x2="258.6" y2="272.9" stroke="#333" stroke-width="0.8"/>
<line x1="253.8" y1="281.3" x2="258.6" y2="281.3" stroke="#333" stroke-width="0.8"/>
<line x1="277.2" y1="289.7" x2="277.2" y2="303.5" stroke="#333" stroke-width="0.8"/>
<line x1="274.8" y1="289.7" x2="279.6" y2="289.7" stroke="#333" stroke-width="0.8"/>
<line x1="274.8" y1="303.5" x2="279.6" y2="303.5" stroke="#333" stroke-width="0.8"/>
<line x1="298.3" y1="310.7" x2="298.3" y2="324.4" stroke="#333" stroke-width="0.8"/>
<line x1="295.9" y1="310.7" x2="300.7" y2="310.7" stroke="#333" stroke-width="0.8"/>
<line x1="295.9" y1="324.4" x2="300.7" y2="324.4" stroke="#333" stroke-width="0.8"/>
<line x1="319" y1="327.5" x2="319" y2="331.6" stroke="#333" stroke-width="0.8"/>
<line x1="316.6" y1="327.5" x2="321.4" y2="327.5" stroke="#333" stroke-width="0.8"/>
<line x1="316.6" y1="331.6" x2="321.4" y2="331.6" stroke="#333" stroke-width="0.8"/>
<line x1="339.8" y1="331.8" x2="339.8" y2="333.8" stroke="#333" stroke-width="0.8"/>
<line x1="337.4" y1="331.8" x2="342.2" y2="331.8" stroke="#333" stroke-width="0.8"/>
<line x1="337.4" y1="333.8" x2="342.2" y2="333.8" stroke="#333" stroke-width="0.8"/>
<polyline points="235.3,254.8 256.2,277 277.2,296.2 298.3,317.2 319,329.2 339.8,332.8" fill="none" stroke="#2b2bdc" stroke-width="1"/>
<circle cx="235.3" cy="257.2" r="2.6" fill="#6a6a6a" stroke="#333" stroke-width="0.5"/>
<circle cx="256.2" cy="254.8" r="2.6" fill="#6a6a6a" stroke="#333" stroke-width="0.5"/>
<circle cx="277.2" cy="260.1" r="2.6" fill="#6a6a6a" stroke="#333" stroke-width="0.5"/>
<circle cx="298.3" cy="259.6" r="2.6" fill="#6a6a6a" stroke="#333" stroke-width="0.5"/>
<circle cx="319" cy="265.6" r="2.6" fill="#6a6a6a" stroke="#333" stroke-width="0.5"/>
<circle cx="339.8" cy="262" r="2.6" fill="#6a6a6a" stroke="#333" stroke-width="0.5"/>
<circle cx="235.3" cy="254.8" r="2.6" fill="#2020e8" stroke="#111" stroke-width="0.5"/>
<circle cx="256.2" cy="277" r="2.6" fill="#2020e8" stroke="#111" stroke-width="0.5"/>
<circle cx="277.2" cy="296.2" r="2.6" fill="#2020e8" stroke="#111" stroke-width="0.5"/>
<circle cx="298.3" cy="317.2" r="2.6" fill="#2020e8" stroke="#111" stroke-width="0.5"/>
<circle cx="319" cy="329.2" r="2.6" fill="#2020e8" stroke="#111" stroke-width="0.5"/>
<circle cx="339.8" cy="332.8" r="2.6" fill="#2020e8" stroke="#111" stroke-width="0.5"/>
<text x="352" y="220.8" font-size="21" text-anchor="start" fill="#000" class="L">f</text>
<rect x="456.2" y="245" width="108.4" height="22.6" rx="0" fill="none" stroke="#444" stroke-width="1.1"/>
<text x="510.5" y="259.6" font-size="11" text-anchor="middle" fill="#111" textLength="48.6" lengthAdjust="spacingAndGlyphs">1: 2.5; T:E</text>
<line x1="404" y1="306.1" x2="667" y2="306.1" stroke="#8a8a8a" stroke-width="3.6"/>
<circle cx="405" cy="306.1" r="5.4" fill="url(#gGreyDot)" stroke="none" stroke-width="0.6"/>
<circle cx="455.7" cy="306.1" r="5.4" fill="url(#gGreyDot)" stroke="none" stroke-width="0.6"/>
<circle cx="515.6" cy="306.1" r="6.4" fill="#5bbcec" stroke="none" stroke-width="0.6"/>
<circle cx="566.9" cy="306.1" r="5.9" fill="#f51a0f" stroke="none" stroke-width="0.6"/>
<circle cx="616" cy="306.1" r="6.4" fill="#5bbcec" stroke="none" stroke-width="0.6"/>
<circle cx="667" cy="306.1" r="5.9" fill="#f51a0f" stroke="none" stroke-width="0.6"/>
<text x="437.8" y="295.7" font-size="11" text-anchor="middle" fill="#111">Day 0</text>
<text x="515.3" y="293.8" font-size="10.6" text-anchor="middle" fill="#111">7</text>
<text x="566.9" y="293.8" font-size="10.6" text-anchor="middle" fill="#111">9</text>
<text x="615" y="293.8" font-size="10.6" text-anchor="middle" fill="#111">11</text>
<text x="665.5" y="293.8" font-size="10.6" text-anchor="middle" fill="#111">13</text>
<text x="384.8" y="325.7" font-size="10.6" text-anchor="start" fill="#111">T cell</text>
<text x="384.8" y="337.6" font-size="10.6" text-anchor="start" fill="#111">isolation</text>
<text x="453.1" y="323.1" font-size="10.6" text-anchor="middle" fill="#111">transduction</text>
<text x="453.1" y="334.7" font-size="10.6" text-anchor="middle" fill="#111">activation</text>
<rect x="576.1" y="217.9" width="67.9" height="61.9" rx="0" fill="none" stroke="#5db8e6" stroke-width="1"/>
<text x="585.5" y="233" font-size="10.6" fill="#111">Raji<tspan dy="-4" font-size="7.42">WT</tspan></text>
<text x="585.5" y="245.5" font-size="10.6" fill="#111">Raji<tspan dy="-4" font-size="7.42">CD19-/-</tspan></text>
<text x="585.5" y="258" font-size="10.6" fill="#111">Raji<tspan dy="-4" font-size="7.42">CD20-/-</tspan></text>
<text x="585.5" y="270.5" font-size="10.6" fill="#111">Raji<tspan dy="-4" font-size="7.42">CD22-/-</tspan></text>
<rect x="485.3" y="320.2" width="68.1" height="61.7" rx="0" fill="none" stroke="#5db8e6" stroke-width="1"/>
<text x="495.6" y="334.4" font-size="10.6" fill="#111">Raji<tspan dy="-4" font-size="7.42">WT</tspan></text>
<text x="495.6" y="346.3" font-size="10.6" fill="#111">Raji<tspan dy="-4" font-size="7.42">CD19-/-</tspan></text>
<text x="495.6" y="358.2" font-size="10.6" fill="#111">Raji<tspan dy="-4" font-size="7.42">CD20-/-</tspan></text>
<text x="495.6" y="370.1" font-size="10.6" fill="#111">Raji<tspan dy="-4" font-size="7.42">CD22-/-</tspan></text>
<rect x="651.3" y="205.1" width="19.5" height="77.1" rx="4" fill="none" stroke="#f08a8a" stroke-width="0.9"/>
<text x="657.2" y="216.3" font-size="10.6" text-anchor="start" fill="#111" transform="rotate(90 657.2 216.3)">Anti-tumor</text>
<rect x="557.6" y="317.7" width="21.5" height="77" rx="4" fill="none" stroke="#f08a8a" stroke-width="0.9"/>
<text x="564.2" y="327.3" font-size="10.6" text-anchor="start" fill="#111" transform="rotate(90 564.2 327.3)">Anti-tumor</text>
<text x="9.3" y="450.5" font-size="21" text-anchor="start" fill="#000" class="L">g</text>
<line x1="46.4" y1="490.2" x2="46.4" y2="604" stroke="#555" stroke-width="0.9"/>
<line x1="46.4" y1="604" x2="318.6" y2="604" stroke="#555" stroke-width="0.9"/>
<line x1="42.4" y1="604" x2="46.4" y2="604" stroke="#555" stroke-width="0.9"/>
<text x="41.4" y="608.1" font-size="11.6" text-anchor="end" fill="#111">0</text>
<line x1="42.4" y1="581.24" x2="46.4" y2="581.24" stroke="#555" stroke-width="0.9"/>
<text x="41.4" y="585.34" font-size="11.6" text-anchor="end" fill="#111">20</text>
<line x1="42.4" y1="558.48" x2="46.4" y2="558.48" stroke="#555" stroke-width="0.9"/>
<text x="41.4" y="562.58" font-size="11.6" text-anchor="end" fill="#111">40</text>
<line x1="42.4" y1="535.72" x2="46.4" y2="535.72" stroke="#555" stroke-width="0.9"/>
<text x="41.4" y="539.82" font-size="11.6" text-anchor="end" fill="#111">60</text>
<line x1="42.4" y1="512.96" x2="46.4" y2="512.96" stroke="#555" stroke-width="0.9"/>
<text x="41.4" y="517.06" font-size="11.6" text-anchor="end" fill="#111">80</text>
<line x1="42.4" y1="490.2" x2="46.4" y2="490.2" stroke="#555" stroke-width="0.9"/>
<text x="41.4" y="494.3" font-size="11.6" text-anchor="end" fill="#111">100</text>
<text x="21" y="551.6" font-size="10.2" text-anchor="middle" fill="#111" transform="rotate(-90 21 551.6)" textLength="80" lengthAdjust="spacingAndGlyphs">% Tumor cell lysis</text>
<text x="171.5" y="441.2" font-size="10.4" text-anchor="middle" fill="#111" text-decoration="underline">Day 7</text>
<line x1="157.75" y1="443.2" x2="185.25" y2="443.2" stroke="#666" stroke-width="1.1"/>
<ellipse cx="69.9" cy="469.4" rx="3.4" ry="2.85" fill="#7c80f8" stroke="#4848a8" stroke-width="0.5"/>
<text x="75" y="471.8" font-size="8.9" text-anchor="start" fill="#111" textLength="23.6" lengthAdjust="spacingAndGlyphs">m19</text>
<ellipse cx="117.8" cy="469.4" rx="3.4" ry="2.85" fill="#f1952b" stroke="#a86010" stroke-width="0.5"/>
<text x="123" y="471.8" font-size="8.9" text-anchor="start" fill="#111" textLength="62.6" lengthAdjust="spacingAndGlyphs">b20/19-AKT3</text>
<text x="138.2" y="478.8" font-size="6.7" text-anchor="start" fill="#111" textLength="32.8" lengthAdjust="spacingAndGlyphs">PROTAC</text>
<ellipse cx="210.7" cy="469.4" rx="3.4" ry="2.85" fill="#92551a" stroke="#5a300a" stroke-width="0.5"/>
<text x="215.5" y="471.8" font-size="8.9" text-anchor="start" fill="#111" textLength="63.6" lengthAdjust="spacingAndGlyphs">b20/19-AKT3</text>
<text x="211.1" y="478.8" font-size="6.7" text-anchor="start" fill="#111" textLength="73.4" lengthAdjust="spacingAndGlyphs">PROTAC+nbCD3/22</text>
<rect x="54.9" y="559.05" width="16" height="44.95" rx="0" fill="#7c80f8" stroke="#222" stroke-width="0.6"/>
<rect x="75.6" y="525.48" width="16" height="78.52" rx="0" fill="#f1952b" stroke="#222" stroke-width="0.6"/>
<rect x="96.2" y="502.72" width="16" height="101.28" rx="0" fill="#92551a" stroke="#222" stroke-width="0.6"/>
<line x1="62.9" y1="604" x2="62.9" y2="606.5" stroke="#555" stroke-width="0.8"/>
<line x1="83.6" y1="604" x2="83.6" y2="606.5" stroke="#555" stroke-width="0.8"/>
<line x1="104.2" y1="604" x2="104.2" y2="606.5" stroke="#555" stroke-width="0.8"/>
<rect x="120.9" y="601.72" width="16" height="2.28" rx="0" fill="#7c80f8" stroke="#222" stroke-width="0.6"/>
<rect x="141.6" y="527.75" width="16" height="76.25" rx="0" fill="#f1952b" stroke="#222" stroke-width="0.6"/>
<rect x="162.2" y="512.96" width="16" height="91.04" rx="0" fill="#92551a" stroke="#222" stroke-width="0.6"/>
<line x1="128.9" y1="604" x2="128.9" y2="606.5" stroke="#555" stroke-width="0.8"/>
<line x1="149.6" y1="604" x2="149.6" y2="606.5" stroke="#555" stroke-width="0.8"/>
<line x1="170.2" y1="604" x2="170.2" y2="606.5" stroke="#555" stroke-width="0.8"/>
<rect x="186.6" y="549.38" width="16" height="54.62" rx="0" fill="#7c80f8" stroke="#222" stroke-width="0.6"/>
<rect x="207.6" y="530.6" width="16" height="73.4" rx="0" fill="#f1952b" stroke="#222" stroke-width="0.6"/>
<rect x="228.3" y="512.39" width="16" height="91.61" rx="0" fill="#92551a" stroke="#222" stroke-width="0.6"/>
<line x1="194.6" y1="604" x2="194.6" y2="606.5" stroke="#555" stroke-width="0.8"/>
<line x1="215.6" y1="604" x2="215.6" y2="606.5" stroke="#555" stroke-width="0.8"/>
<line x1="236.3" y1="604" x2="236.3" y2="606.5" stroke="#555" stroke-width="0.8"/>
<rect x="252.8" y="564.17" width="16" height="39.83" rx="0" fill="#7c80f8" stroke="#222" stroke-width="0.6"/>
<rect x="273.4" y="525.48" width="16" height="78.52" rx="0" fill="#f1952b" stroke="#222" stroke-width="0.6"/>
<rect x="294.1" y="522.06" width="16" height="81.94" rx="0" fill="#92551a" stroke="#222" stroke-width="0.6"/>
<line x1="260.8" y1="604" x2="260.8" y2="606.5" stroke="#555" stroke-width="0.8"/>
<line x1="281.4" y1="604" x2="281.4" y2="606.5" stroke="#555" stroke-width="0.8"/>
<line x1="302.1" y1="604" x2="302.1" y2="606.5" stroke="#555" stroke-width="0.8"/>
<line x1="62.9" y1="559.05" x2="62.9" y2="554.9" stroke="#222" stroke-width="0.8"/>
<line x1="59.9" y1="554.9" x2="65.9" y2="554.9" stroke="#222" stroke-width="0.8"/>
<circle cx="62.7" cy="542.4" r="2.3" fill="#7c80f8" stroke="#4848a8" stroke-width="0.6"/>
<circle cx="62.7" cy="551.5" r="2.3" fill="#7c80f8" stroke="#4848a8" stroke-width="0.6"/>
<circle cx="57" cy="564" r="2.3" fill="#7c80f8" stroke="#4848a8" stroke-width="0.6"/>
<circle cx="62.7" cy="565" r="2.3" fill="#7c80f8" stroke="#4848a8" stroke-width="0.6"/>
<circle cx="68.4" cy="565" r="2.3" fill="#7c80f8" stroke="#4848a8" stroke-width="0.6"/>
<circle cx="59.3" cy="565.8" r="2.3" fill="#7c80f8" stroke="#4848a8" stroke-width="0.6"/>
<line x1="83.6" y1="525.48" x2="83.6" y2="523.5" stroke="#222" stroke-width="0.8"/>
<line x1="80.6" y1="523.5" x2="86.6" y2="523.5" stroke="#222" stroke-width="0.8"/>
<circle cx="77.8" cy="525.5" r="2.3" fill="#f1952b" stroke="#a86010" stroke-width="0.6"/>
<circle cx="83.5" cy="521.5" r="2.3" fill="#f1952b" stroke="#a86010" stroke-width="0.6"/>
<circle cx="89.5" cy="522.7" r="2.3" fill="#f1952b" stroke="#a86010" stroke-width="0.6"/>
<circle cx="83.5" cy="527" r="2.3" fill="#f1952b" stroke="#a86010" stroke-width="0.6"/>
<circle cx="89" cy="528" r="2.3" fill="#f1952b" stroke="#a86010" stroke-width="0.6"/>
<circle cx="78" cy="530" r="2.3" fill="#f1952b" stroke="#a86010" stroke-width="0.6"/>
<line x1="104.2" y1="502.72" x2="104.2" y2="501.5" stroke="#222" stroke-width="0.8"/>
<line x1="101.2" y1="501.5" x2="107.2" y2="501.5" stroke="#222" stroke-width="0.8"/>
<circle cx="98.5" cy="499" r="2.3" fill="#92551a" stroke="#5a300a" stroke-width="0.6"/>
<circle cx="106" cy="499" r="2.3" fill="#92551a" stroke="#5a300a" stroke-width="0.6"/>
<circle cx="102" cy="502.5" r="2.3" fill="#92551a" stroke="#5a300a" stroke-width="0.6"/>
<circle cx="106" cy="504" r="2.3" fill="#92551a" stroke="#5a300a" stroke-width="0.6"/>
<circle cx="110" cy="504" r="2.3" fill="#92551a" stroke="#5a300a" stroke-width="0.6"/>
<circle cx="98.5" cy="505.5" r="2.3" fill="#92551a" stroke="#5a300a" stroke-width="0.6"/>
<text x="65.6" y="617.6" font-size="10.2" fill="#111" textLength="35.4" lengthAdjust="spacingAndGlyphs">Raji<tspan dy="-2.6" font-size="7.2">WT</tspan></text>
<circle cx="122.5" cy="602" r="2.3" fill="#7c80f8" stroke="#4848a8" stroke-width="0.6"/>
<circle cx="126" cy="601" r="2.3" fill="#7c80f8" stroke="#4848a8" stroke-width="0.6"/>
<circle cx="130" cy="601" r="2.3" fill="#7c80f8" stroke="#4848a8" stroke-width="0.6"/>
<circle cx="134" cy="602" r="2.3" fill="#7c80f8" stroke="#4848a8" stroke-width="0.6"/>
<circle cx="128" cy="602.5" r="2.3" fill="#7c80f8" stroke="#4848a8" stroke-width="0.6"/>
<line x1="149.6" y1="527.75" x2="149.6" y2="526" stroke="#222" stroke-width="0.8"/>
<line x1="146.6" y1="526" x2="152.6" y2="526" stroke="#222" stroke-width="0.8"/>
<circle cx="148.9" cy="519.7" r="2.3" fill="#f1952b" stroke="#a86010" stroke-width="0.6"/>
<circle cx="143.2" cy="526.5" r="2.3" fill="#f1952b" stroke="#a86010" stroke-width="0.6"/>
<circle cx="150" cy="526.5" r="2.3" fill="#f1952b" stroke="#a86010" stroke-width="0.6"/>
<circle cx="155.7" cy="528.1" r="2.3" fill="#f1952b" stroke="#a86010" stroke-width="0.6"/>
<circle cx="146.6" cy="532.2" r="2.3" fill="#f1952b" stroke="#a86010" stroke-width="0.6"/>
<circle cx="149.6" cy="536.7" r="2.3" fill="#f1952b" stroke="#a86010" stroke-width="0.6"/>
<line x1="170.2" y1="512.96" x2="170.2" y2="509.5" stroke="#222" stroke-width="0.8"/>
<line x1="167.2" y1="509.5" x2="173.2" y2="509.5" stroke="#222" stroke-width="0.8"/>
<circle cx="167" cy="503.8" r="2.3" fill="#92551a" stroke="#5a300a" stroke-width="0.6"/>
<circle cx="173.9" cy="503.8" r="2.3" fill="#92551a" stroke="#5a300a" stroke-width="0.6"/>
<circle cx="164.3" cy="513.6" r="2.3" fill="#92551a" stroke="#5a300a" stroke-width="0.6"/>
<circle cx="170.5" cy="513.6" r="2.3" fill="#92551a" stroke="#5a300a" stroke-width="0.6"/>
<circle cx="175.7" cy="515.2" r="2.3" fill="#92551a" stroke="#5a300a" stroke-width="0.6"/>
<circle cx="165.9" cy="519.7" r="2.3" fill="#92551a" stroke="#5a300a" stroke-width="0.6"/>
<text x="122.9" y="617.6" font-size="10.2" fill="#111" textLength="53.3" lengthAdjust="spacingAndGlyphs">Raji<tspan dy="-2.6" font-size="7.2">CD19-/-</tspan></text>
<line x1="194.6" y1="549.38" x2="194.6" y2="541.3" stroke="#222" stroke-width="0.8"/>
<line x1="191.6" y1="541.3" x2="197.6" y2="541.3" stroke="#222" stroke-width="0.8"/>
<circle cx="189.3" cy="529.9" r="2.3" fill="#7c80f8" stroke="#4848a8" stroke-width="0.6"/>
<circle cx="200.6" cy="529.9" r="2.3" fill="#7c80f8" stroke="#4848a8" stroke-width="0.6"/>
<circle cx="195" cy="542.4" r="2.3" fill="#7c80f8" stroke="#4848a8" stroke-width="0.6"/>
<circle cx="189.3" cy="558.3" r="2.3" fill="#7c80f8" stroke="#4848a8" stroke-width="0.6"/>
<circle cx="200.6" cy="558.3" r="2.3" fill="#7c80f8" stroke="#4848a8" stroke-width="0.6"/>
<circle cx="195" cy="573" r="2.3" fill="#7c80f8" stroke="#4848a8" stroke-width="0.6"/>
<line x1="215.6" y1="530.6" x2="215.6" y2="528.5" stroke="#222" stroke-width="0.8"/>
<line x1="212.6" y1="528.5" x2="218.6" y2="528.5" stroke="#222" stroke-width="0.8"/>
<circle cx="209.7" cy="528.8" r="2.3" fill="#f1952b" stroke="#a86010" stroke-width="0.6"/>
<circle cx="213.6" cy="526.5" r="2.3" fill="#f1952b" stroke="#a86010" stroke-width="0.6"/>
<circle cx="221" cy="528.8" r="2.3" fill="#f1952b" stroke="#a86010" stroke-width="0.6"/>
<circle cx="212" cy="534.5" r="2.3" fill="#f1952b" stroke="#a86010" stroke-width="0.6"/>
<circle cx="217.6" cy="533.3" r="2.3" fill="#f1952b" stroke="#a86010" stroke-width="0.6"/>
<circle cx="214.2" cy="536.7" r="2.3" fill="#f1952b" stroke="#a86010" stroke-width="0.6"/>
<line x1="236.3" y1="512.39" x2="236.3" y2="510" stroke="#222" stroke-width="0.8"/>
<line x1="233.3" y1="510" x2="239.3" y2="510" stroke="#222" stroke-width="0.8"/>
<circle cx="230.1" cy="506.1" r="2.3" fill="#92551a" stroke="#5a300a" stroke-width="0.6"/>
<circle cx="235.8" cy="508.4" r="2.3" fill="#92551a" stroke="#5a300a" stroke-width="0.6"/>
<circle cx="241.5" cy="507.2" r="2.3" fill="#92551a" stroke="#5a300a" stroke-width="0.6"/>
<circle cx="230.8" cy="516.3" r="2.3" fill="#92551a" stroke="#5a300a" stroke-width="0.6"/>
<circle cx="238.1" cy="515.9" r="2.3" fill="#92551a" stroke="#5a300a" stroke-width="0.6"/>
<circle cx="234.7" cy="514" r="2.3" fill="#92551a" stroke="#5a300a" stroke-width="0.6"/>
<text x="188.8" y="617.6" font-size="10.2" fill="#111" textLength="53.5" lengthAdjust="spacingAndGlyphs">Raji<tspan dy="-2.6" font-size="7.2">CD20-/-</tspan></text>
<line x1="260.8" y1="564.17" x2="260.8" y2="561.5" stroke="#222" stroke-width="0.8"/>
<line x1="257.8" y1="561.5" x2="263.8" y2="561.5" stroke="#222" stroke-width="0.8"/>
<circle cx="260.8" cy="558.3" r="2.3" fill="#7c80f8" stroke="#4848a8" stroke-width="0.6"/>
<circle cx="255.1" cy="565.5" r="2.3" fill="#7c80f8" stroke="#4848a8" stroke-width="0.6"/>
<circle cx="266.4" cy="561.7" r="2.3" fill="#7c80f8" stroke="#4848a8" stroke-width="0.6"/>
<circle cx="260.8" cy="566.7" r="2.3" fill="#7c80f8" stroke="#4848a8" stroke-width="0.6"/>
<circle cx="259" cy="577.6" r="2.3" fill="#7c80f8" stroke="#4848a8" stroke-width="0.6"/>
<circle cx="263.5" cy="566.2" r="2.3" fill="#7c80f8" stroke="#4848a8" stroke-width="0.6"/>
<line x1="281.4" y1="525.48" x2="281.4" y2="522" stroke="#222" stroke-width="0.8"/>
<line x1="278.4" y1="522" x2="284.4" y2="522" stroke="#222" stroke-width="0.8"/>
<circle cx="275.5" cy="520.8" r="2.3" fill="#f1952b" stroke="#a86010" stroke-width="0.6"/>
<circle cx="286.9" cy="517.4" r="2.3" fill="#f1952b" stroke="#a86010" stroke-width="0.6"/>
<circle cx="286.9" cy="522" r="2.3" fill="#f1952b" stroke="#a86010" stroke-width="0.6"/>
<circle cx="275.5" cy="527.7" r="2.3" fill="#f1952b" stroke="#a86010" stroke-width="0.6"/>
<circle cx="286.9" cy="527.7" r="2.3" fill="#f1952b" stroke="#a86010" stroke-width="0.6"/>
<circle cx="281.2" cy="533.3" r="2.3" fill="#f1952b" stroke="#a86010" stroke-width="0.6"/>
<line x1="302.1" y1="522.06" x2="302.1" y2="518" stroke="#222" stroke-width="0.8"/>
<line x1="299.1" y1="518" x2="305.1" y2="518" stroke="#222" stroke-width="0.8"/>
<circle cx="301.6" cy="510.6" r="2.3" fill="#92551a" stroke="#5a300a" stroke-width="0.6"/>
<circle cx="295.9" cy="516.3" r="2.3" fill="#92551a" stroke="#5a300a" stroke-width="0.6"/>
<circle cx="307.3" cy="518.6" r="2.3" fill="#92551a" stroke="#5a300a" stroke-width="0.6"/>
<circle cx="301.6" cy="523.6" r="2.3" fill="#92551a" stroke="#5a300a" stroke-width="0.6"/>
<circle cx="301.6" cy="528.8" r="2.3" fill="#92551a" stroke="#5a300a" stroke-width="0.6"/>
<circle cx="301.6" cy="533.3" r="2.3" fill="#92551a" stroke="#5a300a" stroke-width="0.6"/>
<text x="253.9" y="617.6" font-size="10.2" fill="#111" textLength="54.2" lengthAdjust="spacingAndGlyphs">Raji<tspan dy="-2.6" font-size="7.2">CD22-/-</tspan></text>
<path d="M58.7 537.2 L58.7 512.5 L77.6 512.5 L77.6 517.3" fill="none" stroke="#777" stroke-width="0.9"/>
<polygon points="60.73,506.45 61.42,507.85 62.96,508.07 61.84,509.16 62.11,510.7 60.73,509.98 59.34,510.7 59.61,509.16 58.49,508.07 60.03,507.85" fill="#111"/>
<polygon points="65.68,506.45 66.37,507.85 67.91,508.07 66.79,509.16 67.06,510.7 65.68,509.98 64.29,510.7 64.56,509.16 63.44,508.07 64.98,507.85" fill="#111"/>
<polygon points="70.62,506.45 71.32,507.85 72.86,508.07 71.74,509.16 72.01,510.7 70.62,509.98 69.24,510.7 69.51,509.16 68.39,508.07 69.93,507.85" fill="#111"/>
<polygon points="75.58,506.45 76.27,507.85 77.81,508.07 76.69,509.16 76.96,510.7 75.58,509.98 74.19,510.7 74.46,509.16 73.34,508.07 74.88,507.85" fill="#111"/>
<path d="M77.6 512.5 L77.6 488 L94.5 488 L94.5 492.8" fill="none" stroke="#777" stroke-width="0.9"/>
<polygon points="78.62,481.95 79.32,483.35 80.86,483.57 79.74,484.66 80.01,486.2 78.62,485.48 77.24,486.2 77.51,484.66 76.39,483.57 77.93,483.35" fill="#111"/>
<polygon points="83.58,481.95 84.27,483.35 85.81,483.57 84.69,484.66 84.96,486.2 83.58,485.48 82.19,486.2 82.46,484.66 81.34,483.57 82.88,483.35" fill="#111"/>
<polygon points="88.52,481.95 89.22,483.35 90.76,483.57 89.64,484.66 89.91,486.2 88.52,485.48 87.14,486.2 87.41,484.66 86.29,483.57 87.83,483.35" fill="#111"/>
<polygon points="93.47,481.95 94.17,483.35 95.71,483.57 94.59,484.66 94.86,486.2 93.47,485.48 92.09,486.2 92.36,484.66 91.24,483.57 92.78,483.35" fill="#111"/>
<path d="M146.7 515.3 L146.7 495.6 L163.5 495.6 L163.5 500.7" fill="none" stroke="#777" stroke-width="0.9"/>
<polygon points="147.67,489.55 148.37,490.95 149.91,491.17 148.79,492.26 149.06,493.8 147.67,493.08 146.29,493.8 146.56,492.26 145.44,491.17 146.98,490.95" fill="#111"/>
<polygon points="152.62,489.55 153.32,490.95 154.86,491.17 153.74,492.26 154.01,493.8 152.62,493.08 151.24,493.8 151.51,492.26 150.39,491.17 151.93,490.95" fill="#111"/>
<polygon points="157.57,489.55 158.27,490.95 159.81,491.17 158.69,492.26 158.96,493.8 157.57,493.08 156.19,493.8 156.46,492.26 155.34,491.17 156.88,490.95" fill="#111"/>
<polygon points="162.53,489.55 163.22,490.95 164.76,491.17 163.64,492.26 163.91,493.8 162.53,493.08 161.14,493.8 161.41,492.26 160.29,491.17 161.83,490.95" fill="#111"/>
<path d="M217.9 517.1 L217.9 497.4 L234.5 497.4 L234.5 502.5" fill="none" stroke="#777" stroke-width="0.9"/>
<polygon points="218.77,491.35 219.47,492.75 221.01,492.97 219.89,494.06 220.16,495.6 218.77,494.88 217.39,495.6 217.66,494.06 216.54,492.97 218.08,492.75" fill="#111"/>
<polygon points="223.72,491.35 224.42,492.75 225.96,492.97 224.84,494.06 225.11,495.6 223.72,494.88 222.34,495.6 222.61,494.06 221.49,492.97 223.03,492.75" fill="#111"/>
<polygon points="228.67,491.35 229.37,492.75 230.91,492.97 229.79,494.06 230.06,495.6 228.67,494.88 227.29,495.6 227.56,494.06 226.44,492.97 227.98,492.75" fill="#111"/>
<polygon points="233.62,491.35 234.32,492.75 235.86,492.97 234.74,494.06 235.01,495.6 233.62,494.88 232.24,495.6 232.51,494.06 231.39,492.97 232.93,492.75" fill="#111"/>
<path d="M288 510 L288 500.9 L307.3 500.9 L307.3 506" fill="none" stroke="#777" stroke-width="0.9"/>
<text x="297.65" y="497.6" font-size="10.4" text-anchor="middle" fill="#111">ns</text>
<text x="359.8" y="451" font-size="21" text-anchor="start" fill="#000" class="L">h</text>
<line x1="410.4" y1="489.5" x2="410.4" y2="603.8" stroke="#555" stroke-width="0.9"/>
<line x1="410.4" y1="603.8" x2="666.1" y2="603.8" stroke="#555" stroke-width="0.9"/>
<line x1="406.4" y1="603.8" x2="410.4" y2="603.8" stroke="#555" stroke-width="0.9"/>
<text x="405.7" y="607.9" font-size="11.6" text-anchor="end" fill="#111">0</text>
<line x1="406.4" y1="580.94" x2="410.4" y2="580.94" stroke="#555" stroke-width="0.9"/>
<text x="405.7" y="585.04" font-size="11.6" text-anchor="end" fill="#111">20</text>
<line x1="406.4" y1="558.08" x2="410.4" y2="558.08" stroke="#555" stroke-width="0.9"/>
<text x="405.7" y="562.18" font-size="11.6" text-anchor="end" fill="#111">40</text>
<line x1="406.4" y1="535.22" x2="410.4" y2="535.22" stroke="#555" stroke-width="0.9"/>
<text x="405.7" y="539.32" font-size="11.6" text-anchor="end" fill="#111">60</text>
<line x1="406.4" y1="512.36" x2="410.4" y2="512.36" stroke="#555" stroke-width="0.9"/>
<text x="405.7" y="516.46" font-size="11.6" text-anchor="end" fill="#111">80</text>
<line x1="406.4" y1="489.5" x2="410.4" y2="489.5" stroke="#555" stroke-width="0.9"/>
<text x="405.7" y="493.6" font-size="11.6" text-anchor="end" fill="#111">100</text>
<text x="387.5" y="551" font-size="10.2" text-anchor="middle" fill="#111" transform="rotate(-90 387.5 551)" textLength="80" lengthAdjust="spacingAndGlyphs">% Tumor cell lysis</text>
<text x="553.7" y="437.5" font-size="10.4" text-anchor="middle" fill="#111" text-decoration="underline">Day 14</text>
<line x1="536.7" y1="439.5" x2="570.7" y2="439.5" stroke="#666" stroke-width="1.1"/>
<ellipse cx="432.4" cy="468.5" rx="3.4" ry="2.85" fill="#7c80f8" stroke="#4848a8" stroke-width="0.5"/>
<text x="437.9" y="470.9" font-size="8.9" text-anchor="start" fill="#111" textLength="22" lengthAdjust="spacingAndGlyphs">m19</text>
<ellipse cx="477.8" cy="468.5" rx="3.4" ry="2.85" fill="#f1952b" stroke="#a86010" stroke-width="0.5"/>
<text x="482.7" y="470.9" font-size="8.9" text-anchor="start" fill="#111" textLength="60.1" lengthAdjust="spacingAndGlyphs">b20/19-AKT3</text>
<text x="497.5" y="477.9" font-size="6.7" text-anchor="start" fill="#111" textLength="30.7" lengthAdjust="spacingAndGlyphs">PROTAC</text>
<ellipse cx="563.7" cy="468.5" rx="3.4" ry="2.85" fill="#92551a" stroke="#5a300a" stroke-width="0.5"/>
<text x="569.2" y="470.9" font-size="8.9" text-anchor="start" fill="#111" textLength="59.5" lengthAdjust="spacingAndGlyphs">b20/19-AKT3</text>
<text x="564.4" y="477.9" font-size="6.7" text-anchor="start" fill="#111" textLength="69.6" lengthAdjust="spacingAndGlyphs">PROTAC+nbCD3/22</text>
<rect x="418.65" y="562.88" width="15.3" height="40.92" rx="0" fill="#7c80f8" stroke="#222" stroke-width="0.6"/>
<rect x="438.05" y="527.22" width="15.3" height="76.58" rx="0" fill="#f1952b" stroke="#222" stroke-width="0.6"/>
<rect x="457.25" y="505.04" width="15.3" height="98.76" rx="0" fill="#92551a" stroke="#222" stroke-width="0.6"/>
<line x1="426.3" y1="603.8" x2="426.3" y2="606.3" stroke="#555" stroke-width="0.8"/>
<line x1="445.7" y1="603.8" x2="445.7" y2="606.3" stroke="#555" stroke-width="0.8"/>
<line x1="464.9" y1="603.8" x2="464.9" y2="606.3" stroke="#555" stroke-width="0.8"/>
<rect x="480.45" y="601.51" width="15.3" height="2.29" rx="0" fill="#7c80f8" stroke="#222" stroke-width="0.6"/>
<rect x="499.85" y="528.82" width="15.3" height="74.98" rx="0" fill="#f1952b" stroke="#222" stroke-width="0.6"/>
<rect x="519.65" y="513.5" width="15.3" height="90.3" rx="0" fill="#92551a" stroke="#222" stroke-width="0.6"/>
<line x1="488.1" y1="603.8" x2="488.1" y2="606.3" stroke="#555" stroke-width="0.8"/>
<line x1="507.5" y1="603.8" x2="507.5" y2="606.3" stroke="#555" stroke-width="0.8"/>
<line x1="527.3" y1="603.8" x2="527.3" y2="606.3" stroke="#555" stroke-width="0.8"/>
<rect x="542.45" y="557.17" width="15.3" height="46.63" rx="0" fill="#7c80f8" stroke="#222" stroke-width="0.6"/>
<rect x="561.75" y="531.79" width="15.3" height="72.01" rx="0" fill="#f1952b" stroke="#222" stroke-width="0.6"/>
<rect x="581.05" y="513.5" width="15.3" height="90.3" rx="0" fill="#92551a" stroke="#222" stroke-width="0.6"/>
<line x1="550.1" y1="603.8" x2="550.1" y2="606.3" stroke="#555" stroke-width="0.8"/>
<line x1="569.4" y1="603.8" x2="569.4" y2="606.3" stroke="#555" stroke-width="0.8"/>
<line x1="588.7" y1="603.8" x2="588.7" y2="606.3" stroke="#555" stroke-width="0.8"/>
<rect x="604.35" y="567.45" width="15.3" height="36.35" rx="0" fill="#7c80f8" stroke="#222" stroke-width="0.6"/>
<rect x="623.55" y="526.53" width="15.3" height="77.27" rx="0" fill="#f1952b" stroke="#222" stroke-width="0.6"/>
<rect x="642.95" y="523.1" width="15.3" height="80.7" rx="0" fill="#92551a" stroke="#222" stroke-width="0.6"/>
<line x1="612" y1="603.8" x2="612" y2="606.3" stroke="#555" stroke-width="0.8"/>
<line x1="631.2" y1="603.8" x2="631.2" y2="606.3" stroke="#555" stroke-width="0.8"/>
<line x1="650.6" y1="603.8" x2="650.6" y2="606.3" stroke="#555" stroke-width="0.8"/>
<line x1="426.3" y1="562.88" x2="426.3" y2="559.4" stroke="#222" stroke-width="0.8"/>
<line x1="423.3" y1="559.4" x2="429.3" y2="559.4" stroke="#222" stroke-width="0.8"/>
<circle cx="422.7" cy="553.1" r="2.5" fill="#7c80f8" stroke="#4848a8" stroke-width="0.6"/>
<circle cx="429" cy="552.2" r="2.5" fill="#7c80f8" stroke="#4848a8" stroke-width="0.6"/>
<circle cx="421.6" cy="565.1" r="2.5" fill="#7c80f8" stroke="#4848a8" stroke-width="0.6"/>
<circle cx="427.2" cy="566.2" r="2.5" fill="#7c80f8" stroke="#4848a8" stroke-width="0.6"/>
<circle cx="431.8" cy="566.2" r="2.5" fill="#7c80f8" stroke="#4848a8" stroke-width="0.6"/>
<circle cx="421.6" cy="570.3" r="2.5" fill="#7c80f8" stroke="#4848a8" stroke-width="0.6"/>
<line x1="445.7" y1="527.22" x2="445.7" y2="524.5" stroke="#222" stroke-width="0.8"/>
<line x1="442.7" y1="524.5" x2="448.7" y2="524.5" stroke="#222" stroke-width="0.8"/>
<circle cx="446.5" cy="521.3" r="2.5" fill="#f1952b" stroke="#a86010" stroke-width="0.6"/>
<circle cx="443.1" cy="523.6" r="2.5" fill="#f1952b" stroke="#a86010" stroke-width="0.6"/>
<circle cx="439.7" cy="528.8" r="2.5" fill="#f1952b" stroke="#a86010" stroke-width="0.6"/>
<circle cx="444.2" cy="528.8" r="2.5" fill="#f1952b" stroke="#a86010" stroke-width="0.6"/>
<circle cx="448.8" cy="528.8" r="2.5" fill="#f1952b" stroke="#a86010" stroke-width="0.6"/>
<circle cx="451.7" cy="528.8" r="2.5" fill="#f1952b" stroke="#a86010" stroke-width="0.6"/>
<line x1="464.9" y1="505.04" x2="464.9" y2="503" stroke="#222" stroke-width="0.8"/>
<line x1="461.9" y1="503" x2="467.9" y2="503" stroke="#222" stroke-width="0.8"/>
<circle cx="459.5" cy="501.6" r="2.5" fill="#92551a" stroke="#5a300a" stroke-width="0.6"/>
<circle cx="464.7" cy="502.2" r="2.5" fill="#92551a" stroke="#5a300a" stroke-width="0.6"/>
<circle cx="470.3" cy="502.2" r="2.5" fill="#92551a" stroke="#5a300a" stroke-width="0.6"/>
<circle cx="462.4" cy="506.1" r="2.5" fill="#92551a" stroke="#5a300a" stroke-width="0.6"/>
<circle cx="467.6" cy="507.7" r="2.5" fill="#92551a" stroke="#5a300a" stroke-width="0.6"/>
<circle cx="465.4" cy="513.6" r="2.5" fill="#92551a" stroke="#5a300a" stroke-width="0.6"/>
<text x="428.9" y="617.6" font-size="10.2" fill="#111" textLength="34" lengthAdjust="spacingAndGlyphs">Raji<tspan dy="-2.6" font-size="7.2">WT</tspan></text>
<circle cx="484.4" cy="599.8" r="2.5" fill="#7c80f8" stroke="#4848a8" stroke-width="0.6"/>
<circle cx="488.5" cy="601.4" r="2.5" fill="#7c80f8" stroke="#4848a8" stroke-width="0.6"/>
<circle cx="493" cy="601.4" r="2.5" fill="#7c80f8" stroke="#4848a8" stroke-width="0.6"/>
<circle cx="486.2" cy="601.4" r="2.5" fill="#7c80f8" stroke="#4848a8" stroke-width="0.6"/>
<line x1="507.5" y1="528.82" x2="507.5" y2="526.5" stroke="#222" stroke-width="0.8"/>
<line x1="504.5" y1="526.5" x2="510.5" y2="526.5" stroke="#222" stroke-width="0.8"/>
<circle cx="507.8" cy="521.3" r="2.5" fill="#f1952b" stroke="#a86010" stroke-width="0.6"/>
<circle cx="502.1" cy="528.1" r="2.5" fill="#f1952b" stroke="#a86010" stroke-width="0.6"/>
<circle cx="508.5" cy="528.1" r="2.5" fill="#f1952b" stroke="#a86010" stroke-width="0.6"/>
<circle cx="513" cy="528.8" r="2.5" fill="#f1952b" stroke="#a86010" stroke-width="0.6"/>
<circle cx="502.1" cy="533.3" r="2.5" fill="#f1952b" stroke="#a86010" stroke-width="0.6"/>
<circle cx="507.8" cy="533.3" r="2.5" fill="#f1952b" stroke="#a86010" stroke-width="0.6"/>
<circle cx="513" cy="533.3" r="2.5" fill="#f1952b" stroke="#a86010" stroke-width="0.6"/>
<line x1="527.3" y1="513.5" x2="527.3" y2="510.5" stroke="#222" stroke-width="0.8"/>
<line x1="524.3" y1="510.5" x2="530.3" y2="510.5" stroke="#222" stroke-width="0.8"/>
<circle cx="521.4" cy="507.2" r="2.5" fill="#92551a" stroke="#5a300a" stroke-width="0.6"/>
<circle cx="531.6" cy="506.8" r="2.5" fill="#92551a" stroke="#5a300a" stroke-width="0.6"/>
<circle cx="521.4" cy="515.2" r="2.5" fill="#92551a" stroke="#5a300a" stroke-width="0.6"/>
<circle cx="527.1" cy="515.9" r="2.5" fill="#92551a" stroke="#5a300a" stroke-width="0.6"/>
<circle cx="532.7" cy="516.3" r="2.5" fill="#92551a" stroke="#5a300a" stroke-width="0.6"/>
<circle cx="521.4" cy="520.4" r="2.5" fill="#92551a" stroke="#5a300a" stroke-width="0.6"/>
<circle cx="532" cy="519.7" r="2.5" fill="#92551a" stroke="#5a300a" stroke-width="0.6"/>
<text x="482.1" y="617.6" font-size="10.2" fill="#111" textLength="50.6" lengthAdjust="spacingAndGlyphs">Raji<tspan dy="-2.6" font-size="7.2">CD19-/-</tspan></text>
<circle cx="544.7" cy="553.1" r="2.5" fill="#7c80f8" stroke="#4848a8" stroke-width="0.6"/>
<circle cx="550.9" cy="553.7" r="2.5" fill="#7c80f8" stroke="#4848a8" stroke-width="0.6"/>
<circle cx="556.1" cy="554.4" r="2.5" fill="#7c80f8" stroke="#4848a8" stroke-width="0.6"/>
<circle cx="545.4" cy="558.3" r="2.5" fill="#7c80f8" stroke="#4848a8" stroke-width="0.6"/>
<circle cx="553.8" cy="559.4" r="2.5" fill="#7c80f8" stroke="#4848a8" stroke-width="0.6"/>
<circle cx="550.4" cy="563.5" r="2.5" fill="#7c80f8" stroke="#4848a8" stroke-width="0.6"/>
<line x1="569.4" y1="531.79" x2="569.4" y2="529" stroke="#222" stroke-width="0.8"/>
<line x1="566.4" y1="529" x2="572.4" y2="529" stroke="#222" stroke-width="0.8"/>
<circle cx="569" cy="526.5" r="2.5" fill="#f1952b" stroke="#a86010" stroke-width="0.6"/>
<circle cx="563.6" cy="528.1" r="2.5" fill="#f1952b" stroke="#a86010" stroke-width="0.6"/>
<circle cx="574.9" cy="528.8" r="2.5" fill="#f1952b" stroke="#a86010" stroke-width="0.6"/>
<circle cx="569" cy="531.7" r="2.5" fill="#f1952b" stroke="#a86010" stroke-width="0.6"/>
<circle cx="563.6" cy="535.6" r="2.5" fill="#f1952b" stroke="#a86010" stroke-width="0.6"/>
<circle cx="574.9" cy="535.6" r="2.5" fill="#f1952b" stroke="#a86010" stroke-width="0.6"/>
<line x1="588.7" y1="513.5" x2="588.7" y2="510.5" stroke="#222" stroke-width="0.8"/>
<line x1="585.7" y1="510.5" x2="591.7" y2="510.5" stroke="#222" stroke-width="0.8"/>
<circle cx="594" cy="505.4" r="2.5" fill="#92551a" stroke="#5a300a" stroke-width="0.6"/>
<circle cx="588.5" cy="507.7" r="2.5" fill="#92551a" stroke="#5a300a" stroke-width="0.6"/>
<circle cx="583.3" cy="510" r="2.5" fill="#92551a" stroke="#5a300a" stroke-width="0.6"/>
<circle cx="594.7" cy="510" r="2.5" fill="#92551a" stroke="#5a300a" stroke-width="0.6"/>
<circle cx="591.3" cy="519" r="2.5" fill="#92551a" stroke="#5a300a" stroke-width="0.6"/>
<circle cx="585.6" cy="522" r="2.5" fill="#92551a" stroke="#5a300a" stroke-width="0.6"/>
<text x="543.5" y="617.6" font-size="10.2" fill="#111" textLength="50.1" lengthAdjust="spacingAndGlyphs">Raji<tspan dy="-2.6" font-size="7.2">CD20-/-</tspan></text>
<circle cx="607.1" cy="565.8" r="2.5" fill="#7c80f8" stroke="#4848a8" stroke-width="0.6"/>
<circle cx="612.1" cy="565.1" r="2.5" fill="#7c80f8" stroke="#4848a8" stroke-width="0.6"/>
<circle cx="617.4" cy="565.1" r="2.5" fill="#7c80f8" stroke="#4848a8" stroke-width="0.6"/>
<circle cx="607.1" cy="569.6" r="2.5" fill="#7c80f8" stroke="#4848a8" stroke-width="0.6"/>
<circle cx="612.1" cy="569.6" r="2.5" fill="#7c80f8" stroke="#4848a8" stroke-width="0.6"/>
<circle cx="617.4" cy="569.6" r="2.5" fill="#7c80f8" stroke="#4848a8" stroke-width="0.6"/>
<line x1="631.2" y1="526.53" x2="631.2" y2="523.5" stroke="#222" stroke-width="0.8"/>
<line x1="628.2" y1="523.5" x2="634.2" y2="523.5" stroke="#222" stroke-width="0.8"/>
<circle cx="636.6" cy="516.8" r="2.5" fill="#f1952b" stroke="#a86010" stroke-width="0.6"/>
<circle cx="626.4" cy="520.4" r="2.5" fill="#f1952b" stroke="#a86010" stroke-width="0.6"/>
<circle cx="631" cy="523.6" r="2.5" fill="#f1952b" stroke="#a86010" stroke-width="0.6"/>
<circle cx="626.4" cy="532.6" r="2.5" fill="#f1952b" stroke="#a86010" stroke-width="0.6"/>
<circle cx="631" cy="530.4" r="2.5" fill="#f1952b" stroke="#a86010" stroke-width="0.6"/>
<circle cx="636.2" cy="531.1" r="2.5" fill="#f1952b" stroke="#a86010" stroke-width="0.6"/>
<line x1="650.6" y1="523.1" x2="650.6" y2="518.5" stroke="#222" stroke-width="0.8"/>
<line x1="647.6" y1="518.5" x2="653.6" y2="518.5" stroke="#222" stroke-width="0.8"/>
<circle cx="650.3" cy="512.2" r="2.5" fill="#92551a" stroke="#5a300a" stroke-width="0.6"/>
<circle cx="650.3" cy="518.1" r="2.5" fill="#92551a" stroke="#5a300a" stroke-width="0.6"/>
<circle cx="654.8" cy="523.1" r="2.5" fill="#92551a" stroke="#5a300a" stroke-width="0.6"/>
<circle cx="645.7" cy="524.2" r="2.5" fill="#92551a" stroke="#5a300a" stroke-width="0.6"/>
<circle cx="650.3" cy="524.9" r="2.5" fill="#92551a" stroke="#5a300a" stroke-width="0.6"/>
<circle cx="655.9" cy="528.8" r="2.5" fill="#92551a" stroke="#5a300a" stroke-width="0.6"/>
<text x="605.5" y="617.6" font-size="10.2" fill="#111" textLength="50.6" lengthAdjust="spacingAndGlyphs">Raji<tspan dy="-2.6" font-size="7.2">CD22-/-</tspan></text>
<path d="M426.1 548 L426.1 510.6 L444.2 510.6 L444.2 516.3" fill="none" stroke="#777" stroke-width="0.9"/>
<polygon points="427.72,504.55 428.42,505.95 429.96,506.17 428.84,507.26 429.11,508.8 427.72,508.08 426.34,508.8 426.61,507.26 425.49,506.17 427.03,505.95" fill="#111"/>
<polygon points="432.67,504.55 433.37,505.95 434.91,506.17 433.79,507.26 434.06,508.8 432.67,508.08 431.29,508.8 431.56,507.26 430.44,506.17 431.98,505.95" fill="#111"/>
<polygon points="437.62,504.55 438.32,505.95 439.86,506.17 438.74,507.26 439.01,508.8 437.62,508.08 436.24,508.8 436.51,507.26 435.39,506.17 436.93,505.95" fill="#111"/>
<polygon points="442.57,504.55 443.27,505.95 444.81,506.17 443.69,507.26 443.96,508.8 442.57,508.08 441.19,508.8 441.46,507.26 440.34,506.17 441.88,505.95" fill="#111"/>
<path d="M444.2 510.6 L444.2 486.4 L463.5 486.4 L463.5 495.9" fill="none" stroke="#777" stroke-width="0.9"/>
<polygon points="446.43,480.35 447.12,481.75 448.66,481.97 447.54,483.06 447.81,484.6 446.43,483.88 445.04,484.6 445.31,483.06 444.19,481.97 445.73,481.75" fill="#111"/>
<polygon points="451.38,480.35 452.07,481.75 453.61,481.97 452.49,483.06 452.76,484.6 451.38,483.88 449.99,484.6 450.26,483.06 449.14,481.97 450.68,481.75" fill="#111"/>
<polygon points="456.33,480.35 457.02,481.75 458.56,481.97 457.44,483.06 457.71,484.6 456.33,483.88 454.94,484.6 455.21,483.06 454.09,481.97 455.63,481.75" fill="#111"/>
<polygon points="461.28,480.35 461.97,481.75 463.51,481.97 462.39,483.06 462.66,484.6 461.28,483.88 459.89,484.6 460.16,483.06 459.04,481.97 460.58,481.75" fill="#111"/>
<path d="M506.6 516.3 L506.6 494.1 L525.5 494.1 L525.5 500.9" fill="none" stroke="#777" stroke-width="0.9"/>
<polygon points="508.62,488.05 509.32,489.45 510.86,489.67 509.74,490.76 510.01,492.3 508.62,491.58 507.24,492.3 507.51,490.76 506.39,489.67 507.93,489.45" fill="#111"/>
<polygon points="513.57,488.05 514.27,489.45 515.81,489.67 514.69,490.76 514.96,492.3 513.57,491.58 512.19,492.3 512.46,490.76 511.34,489.67 512.88,489.45" fill="#111"/>
<polygon points="518.52,488.05 519.22,489.45 520.76,489.67 519.64,490.76 519.91,492.3 518.52,491.58 517.14,492.3 517.41,490.76 516.29,489.67 517.83,489.45" fill="#111"/>
<polygon points="523.47,488.05 524.17,489.45 525.71,489.67 524.59,490.76 524.86,492.3 523.47,491.58 522.09,492.3 522.36,490.76 521.24,489.67 522.78,489.45" fill="#111"/>
<path d="M568.1 523.1 L568.1 496.3 L588.5 496.3 L588.5 502.2" fill="none" stroke="#777" stroke-width="0.9"/>
<polygon points="570.88,490.25 571.57,491.65 573.11,491.87 571.99,492.96 572.26,494.5 570.88,493.78 569.49,494.5 569.76,492.96 568.64,491.87 570.18,491.65" fill="#111"/>
<polygon points="575.82,490.25 576.52,491.65 578.06,491.87 576.94,492.96 577.21,494.5 575.82,493.78 574.44,494.5 574.71,492.96 573.59,491.87 575.13,491.65" fill="#111"/>
<polygon points="580.77,490.25 581.47,491.65 583.01,491.87 581.89,492.96 582.16,494.5 580.77,493.78 579.39,494.5 579.66,492.96 578.54,491.87 580.08,491.65" fill="#111"/>
<polygon points="585.72,490.25 586.42,491.65 587.96,491.87 586.84,492.96 587.11,494.5 585.72,493.78 584.34,494.5 584.61,492.96 583.49,491.87 585.03,491.65" fill="#111"/>
<path d="M631 514 L631 503.8 L650.3 503.8 L650.3 508.4" fill="none" stroke="#777" stroke-width="0.9"/>
<text x="640.65" y="500.5" font-size="10.4" text-anchor="middle" fill="#111">ns</text>
</svg>
</body></html>
